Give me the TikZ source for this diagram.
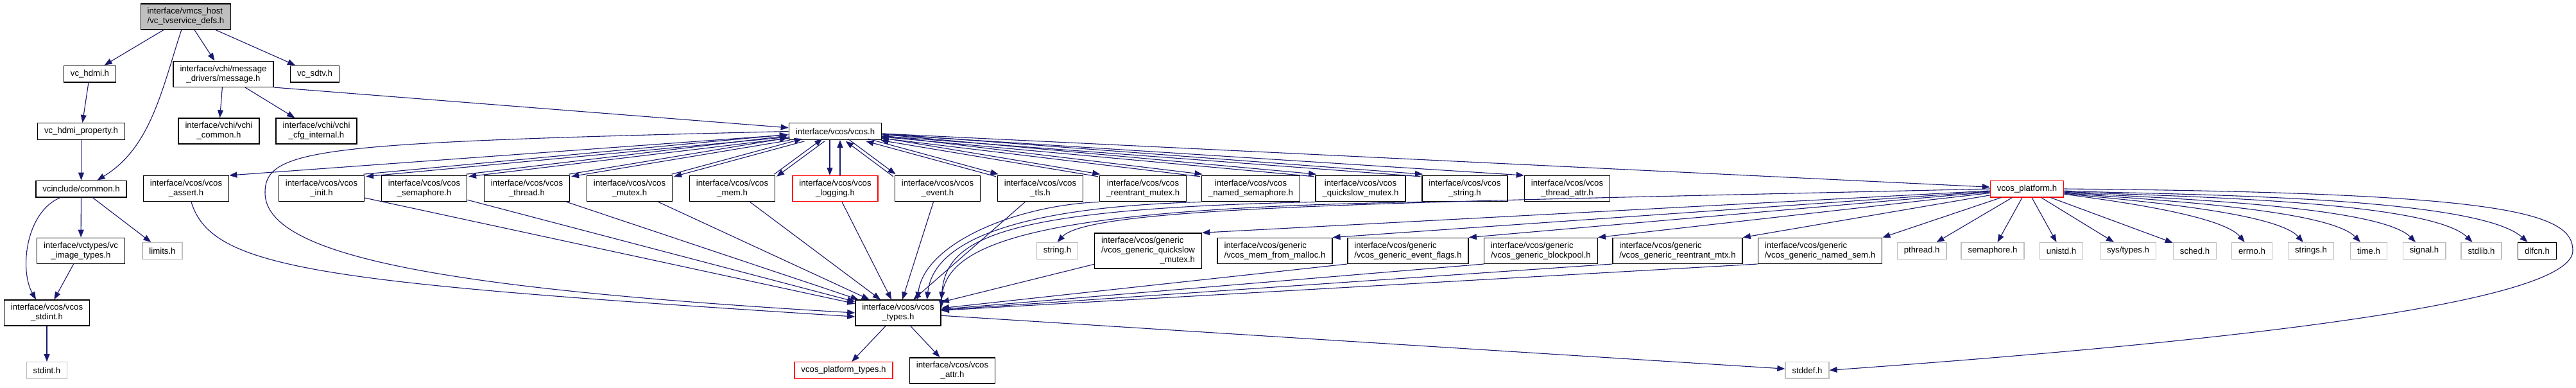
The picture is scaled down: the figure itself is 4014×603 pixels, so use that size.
\documentclass[tikz,border=0pt]{standalone}
\usepackage{fontspec}
\setmainfont{Liberation Sans}
\usetikzlibrary{arrows.meta}
\definecolor{Edge}{RGB}{25,25,112}
\definecolor{Sys}{RGB}{191,191,191}
\definecolor{Root}{RGB}{191,191,191}

\begin{document}
\begin{tikzpicture}[x=1pt,y=1pt,
 b/.style={draw=black,line width=1.4pt,fill=white,inner xsep=10.5pt,inner ysep=3pt,minimum height=25.6pt,align=center,font=\fontsize{13.2}{15}\selectfont},
 sys/.style={b,draw=Sys},
 cut/.style={b,draw=red},
 two/.style={minimum height=40pt},
 three/.style={minimum height=55pt},
 a/.style={-{Triangle[length=12pt,width=9pt]},line width=1.1pt,Edge},
 sh/.style={transform canvas={shift={#1}}}]
\path[use as bounding box,fill=white] (0,0) rectangle (4014,-603);
% headers, rank by rank
\node[b,two,fill=Root,align=left] (root) at (289.5,-26) {interface/vmcs\_host\\/vc\_tvservice\_defs.h};
\node[b] (hdmi) at (140,-115) {vc\_hdmi.h};
\node[b,two] (msg) at (348,-115.3) {interface/vchi/message\\\_drivers/message.h};
\node[b] (sdtv) at (490.5,-115) {vc\_sdtv.h};
\node[b] (hprop) at (126.5,-204.5) {vc\_hdmi\_property.h};
\node[b,two] (vchicom) at (341,-204) {interface/vchi/vchi\\\_common.h};
\node[b,two] (vchicfg) at (493,-204) {interface/vchi/vchi\\\_cfg\_internal.h};
\node[b] (vcos) at (1301.5,-204.5) {interface/vcos/vcos.h};
\node[b] (common) at (126.5,-294) {vcinclude/common.h};
\node[b,two] (assert) at (290,-293.7) {interface/vcos/vcos\\\_assert.h};
\node[b,two] (init) at (501,-293.7) {interface/vcos/vcos\\\_init.h};
\node[b,two] (sem) at (661,-293.7) {interface/vcos/vcos\\\_semaphore.h};
\node[b,two] (thread) at (821,-293.7) {interface/vcos/vcos\\\_thread.h};
\node[b,two] (mutex) at (981,-293.7) {interface/vcos/vcos\\\_mutex.h};
\node[b,two] (mem) at (1141,-293.7) {interface/vcos/vcos\\\_mem.h};
\node[cut,two] (log) at (1301.5,-293.7) {interface/vcos/vcos\\\_logging.h};
\node[b,two] (event) at (1461,-293.7) {interface/vcos/vcos\\\_event.h};
\node[b,two] (tls) at (1621,-293.7) {interface/vcos/vcos\\\_tls.h};
\node[b,two] (rmutex) at (1781,-293.7) {interface/vcos/vcos\\\_reentrant\_mutex.h};
\node[b,two] (nsem) at (1949,-293.7) {interface/vcos/vcos\\\_named\_semaphore.h};
\node[b,two] (qslow) at (2120,-293.7) {interface/vcos/vcos\\\_quickslow\_mutex.h};
\node[b,two] (vstr) at (2282.5,-293.7) {interface/vcos/vcos\\\_string.h};
\node[b,two] (tattr) at (2442,-293.7) {interface/vcos/vcos\\\_thread\_attr.h};
\node[cut] (plat) at (3158.5,-294) {vcos\_platform.h};
\node[b,two] (imgt) at (126,-390.3) {interface/vctypes/vc\\\_image\_types.h};
\node[sys] (limits) at (253,-390.5) {limits.h};
\node[sys] (str) at (1647.5,-390.5) {string.h};
\node[b,three,align=left] (gq) at (1789,-390.5) {interface/vcos/generic\\/vcos\_generic\_quickslow\\\hfill\_mutex.h\hfill};
\node[b,two,align=left] (mfm) at (1986.5,-390.3) {interface/vcos/generic\\/vcos\_mem\_from\_malloc.h};
\node[b,two,align=left] (ef) at (2194,-390.3) {interface/vcos/generic\\/vcos\_generic\_event\_flags.h};
\node[b,two,align=left] (bp) at (2401,-390.3) {interface/vcos/generic\\/vcos\_generic\_blockpool.h};
\node[b,two,align=left] (rm) at (2614,-390.3) {interface/vcos/generic\\/vcos\_generic\_reentrant\_mtx.h};
\node[b,two,align=left] (ns) at (2836,-390.3) {interface/vcos/generic\\/vcos\_generic\_named\_sem.h};
\node[sys] (pthread) at (2994.6,-390.5) {pthread.h};
\node[sys] (semh) at (3105,-390.5) {semaphore.h};
\node[sys] (unistd) at (3212,-390.5) {unistd.h};
\node[sys] (systypes) at (3316,-390.5) {sys/types.h};
\node[sys] (sched) at (3420,-390.5) {sched.h};
\node[sys] (errnoh) at (3509,-390.5) {errno.h};
\node[sys] (stringsh) at (3601,-390.5) {strings.h};
\node[sys] (timeh) at (3691,-390.5) {time.h};
\node[sys] (signalh) at (3777.5,-390.5) {signal.h};
\node[sys] (stdlibh) at (3866.5,-390.5) {stdlib.h};
\node[b] (dlfcn) at (3953.5,-390.5) {dlfcn.h};
\node[b,two] (vstdint) at (73,-487) {interface/vcos/vcos\\\_stdint.h};
\node[b,two] (types) at (1399.5,-487) {interface/vcos/vcos\\\_types.h};
\node[sys] (stdinth) at (73,-576.5) {stdint.h};
\node[cut] (ptypes) at (1314.5,-576.5) {vcos\_platform\_types.h};
\node[b,two] (attr) at (1484,-577) {interface/vcos/vcos\\\_attr.h};
\node[sys] (stddef) at (2816,-576.3) {stddef.h};
% includes on the left
\draw[a] (root)--(hdmi);\draw[a] (root)--(msg);\draw[a] (root)--(sdtv);
\draw[a] (root) .. controls (252,-140) and (235,-230) .. ([xshift=25pt]common.north);
\draw[a] (hdmi)--(hprop);\draw[a] (hprop)--(common);
\draw[a] (msg)--(vchicom);\draw[a] (msg)--(vchicfg);\draw[a] (msg.south east)--(vcos);
\draw[a] (common)--(imgt);\draw[a] (common)--(limits);
\draw[a] (common) .. controls (40,-330) and (30,-420) .. ([xshift=-17pt]vstdint.north);
\draw[a] (imgt)--(vstdint);\draw[a] (vstdint)--(stdinth);
% vcos.h and the headers that include it back
\draw[a] (vcos)--(assert.north east);
\draw[a,sh={(1.8,-1.8)}] (vcos)--(init.north east);\draw[a,sh={(-1.8,1.8)}] (init.north east)--(vcos);
\draw[a,sh={(1.8,-1.8)}] (vcos)--(sem.north east);\draw[a,sh={(-1.8,1.8)}] (sem.north east)--(vcos);
\draw[a,sh={(1.8,-1.8)}] (vcos)--(thread.north east);\draw[a,sh={(-1.8,1.8)}] (thread.north east)--(vcos);
\draw[a,sh={(1.8,-1.8)}] (vcos)--(mutex.north east);\draw[a,sh={(-1.8,1.8)}] (mutex.north east)--(vcos);
\draw[a,sh={(1.8,-1.8)}] (vcos)--(mem.north east);\draw[a,sh={(-1.8,1.8)}] (mem.north east)--(vcos);
\draw[a] ([xshift=-8.5pt]vcos.south)--([xshift=-8.5pt]log.north);\draw[a] ([xshift=7.5pt]log.north)--([xshift=7.5pt]vcos.south);
\draw[a,sh={(1.8,1.8)}] (vcos)--(event.north west);\draw[a,sh={(-1.8,-1.8)}] (event.north west)--(vcos);
\draw[a,sh={(1.8,1.8)}] (vcos)--(tls.north west);\draw[a,sh={(-1.8,-1.8)}] (tls.north west)--(vcos);
\draw[a,sh={(1.8,1.8)}] (vcos)--(rmutex.north west);\draw[a,sh={(-1.8,-1.8)}] (rmutex.north west)--(vcos);
\draw[a,sh={(1.8,1.8)}] (vcos)--(nsem.north west);\draw[a,sh={(-1.8,-1.8)}] (nsem.north west)--(vcos);
\draw[a,sh={(1.8,1.8)}] (vcos)--(qslow.north west);\draw[a,sh={(-1.8,-1.8)}] (qslow.north west)--(vcos);
\draw[a,sh={(1.8,1.8)}] (vcos)--(vstr.north west);\draw[a,sh={(-1.8,-1.8)}] (vstr.north west)--(vcos);
\draw[a] (vcos)--(tattr.north west);\draw[a] (vcos)--(plat);
\draw[a] (vcos.west) .. controls (500,-222) and (413,-230) .. (413,-300) .. controls (413,-400) and (700,-450) .. (types.west);
% into vcos_types.h
\draw[a] ([xshift=8pt]assert.south) .. controls (330,-420) and (500,-440) .. ([yshift=-6pt]types.west);
\draw[a] (init)--(types);\draw[a] (sem)--(types);\draw[a] (thread)--(types);\draw[a] (mutex)--(types);
\draw[a] (mem)--(types);\draw[a] (log)--(types);\draw[a] (event)--(types);\draw[a] (tls)--(types);
\draw[a] (rmutex.south west) .. controls (1580,-320) and (1440,-380) .. ([xshift=30pt]types.north);
\draw[a] (nsem.south west) .. controls (1600,-322) and (1455,-370) .. ([xshift=45pt]types.north);
\draw[a] (qslow.south west) .. controls (1560,-325) and (1475,-370) .. (types.north east);
\draw[a] (vstr.south west) .. controls (1600,-325) and (1470,-380) .. ([yshift=8pt]types.east);
\draw[a] (gq)--(types);\draw[a] (ef.south west)--(types);\draw[a] (bp.south west)--(types);
\draw[a] (rm.south west)--(types);\draw[a] (ns.south west)--(types);
\draw[a] (types)--(ptypes);\draw[a] (types)--(attr);\draw[a] (types)--(stddef);
% vcos_platform.h
\draw[a] (plat.west) .. controls (2200,-315) and (1700,-320) .. (str.north);
\draw[a] (plat)--(gq.north east);\draw[a] (plat)--(mfm.north east);\draw[a] (plat)--(ef.north east);
\draw[a] (plat)--(bp.north east);\draw[a] (plat)--(rm.north east);\draw[a] (plat)--(ns.north east);
\draw[a] (plat)--(pthread);\draw[a] (plat)--(semh);\draw[a] (plat)--(unistd);\draw[a] (plat)--(systypes);\draw[a] (plat)--(sched);
\draw[a] (plat) to[out=-8,in=130,looseness=.5] (errnoh);\draw[a] (plat) to[out=-7,in=132,looseness=.45] (stringsh);
\draw[a] (plat) to[out=-6,in=134,looseness=.42] (timeh);\draw[a] (plat) to[out=-5,in=135,looseness=.4] (signalh);
\draw[a] (plat) to[out=-4,in=136,looseness=.4] (stdlibh);\draw[a] (plat) to[out=-3,in=138,looseness=.4] (dlfcn);
\draw[a] (plat.east) .. controls (3900,-300) and (4009,-330) .. (4009,-390) .. controls (4009,-470) and (3500,-530) .. (stddef.east);
\end{tikzpicture}
\end{document}
